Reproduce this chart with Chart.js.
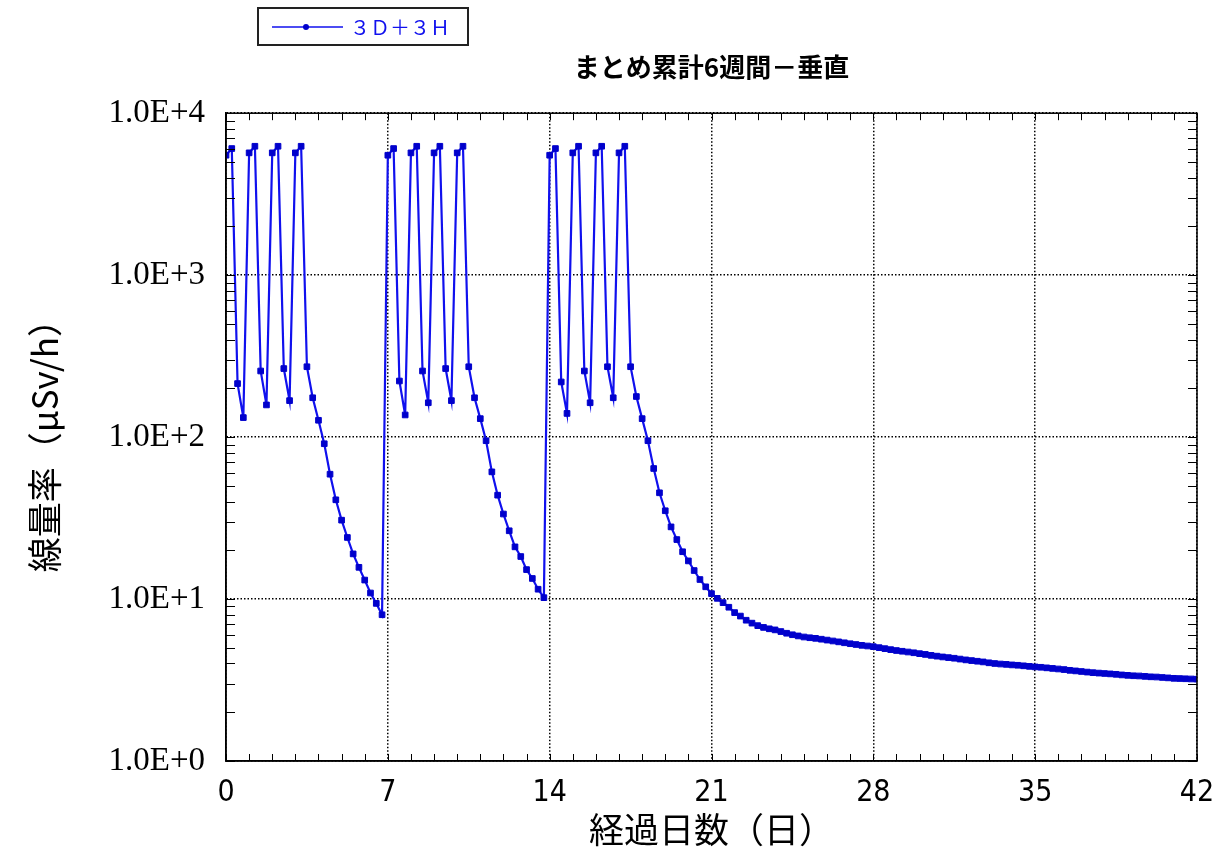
<!DOCTYPE html>
<html lang="ja">
<head>
<meta charset="UTF-8">
<title>まとめ累計6週間－垂直</title>
<script src="https://cdn.jsdelivr.net/npm/chart.js"></script>
<style>
  html, body { margin: 0; padding: 0; background: #fff; }
</style>
</head>
<body>
<canvas id="doseChart" width="1214" height="856"></canvas>
<script>
// 6時間ごとの線量率 (μSv/h)、グラフから読み取った値
const STEP_DAYS = 0.25;

// 0日 ～ 6.75日
const week1 = [5500, 6050, 214, 132, 5690, 6250, 256, 158, 5690, 6250, 265, 168,
  5690, 6250, 272, 175, 127, 91, 59, 41, 30.7, 24, 19, 15.7, 13.1, 10.9, 9.4, 8.0];
// 7日 ～ 13.75日
const week2 = [5500, 6050, 222, 137, 5690, 6250, 256, 163, 5690, 6250, 265, 168,
  5690, 6250, 272, 175, 130, 95, 61, 43.8, 33.5, 26.4, 21, 18.3, 15.2, 13.4, 11.5, 10.2];
// 14日 ～ 20.75日
const week3 = [5500, 6050, 219, 140, 5690, 6250, 256, 163, 5690, 6250, 272, 175,
  5690, 6250, 272, 178, 130, 95, 64, 45.3, 35.1, 27.9, 23.3, 19.6, 17.2, 15.0, 13.2, 11.9];
// 21日 ～ 42日
const tail = [10.8, 10.1, 9.5, 8.9, 8.25, 7.85, 7.4, 7.1, 6.85, 6.68, 6.55, 6.45,
  6.3, 6.15, 6.02, 5.92, 5.83, 5.77, 5.72, 5.65, 5.58, 5.51, 5.44, 5.37,
  5.30, 5.24, 5.18, 5.13, 5.08, 5.01, 4.94, 4.87, 4.81, 4.76, 4.71, 4.66,
  4.60, 4.55, 4.49, 4.44, 4.39, 4.35, 4.31, 4.26, 4.21, 4.17, 4.13, 4.09,
  4.04, 4.00, 3.97, 3.95, 3.92, 3.90, 3.87, 3.84, 3.81, 3.79, 3.76, 3.73,
  3.70, 3.67, 3.63, 3.60, 3.57, 3.54, 3.51, 3.49, 3.47, 3.45, 3.43, 3.40,
  3.38, 3.36, 3.35, 3.33, 3.31, 3.30, 3.28, 3.26, 3.24, 3.23, 3.22, 3.21, 3.20];

const doseRate = week1.concat(week2, week3, tail);
const days = doseRate.map((v, i) => i * STEP_DAYS);

const xTicks = [0, 7, 14, 21, 28, 35, 42];
const yTicks = [1, 10, 100, 1000, 10000];
const seriesLabel = '３Ｄ＋３Ｈ';

const LINE_BLUE = '#1010ee';
const MARK_BLUE = '#0000cc';

// 枠線・内向きの目盛り・凡例
const framePlugin = {
  id: 'frame',
  afterDraw(chart) {
    const ctx = chart.ctx;
    const a = chart.chartArea;
    const xs = chart.scales.x, ys = chart.scales.y;
    ctx.save();
    ctx.strokeStyle = '#000';
    ctx.lineWidth = 1.5;
    ctx.setLineDash([]);
    ctx.strokeRect(a.left, a.top, a.right - a.left, a.bottom - a.top);

    ctx.lineWidth = 1;
    ctx.beginPath();
    for (let d = 0; d <= 42; d++) {
      const px = Math.round(xs.getPixelForValue(d)) + 0.5;
      ctx.moveTo(px, a.bottom); ctx.lineTo(px, a.bottom - 7);
      ctx.moveTo(px, a.top); ctx.lineTo(px, a.top + 7);
    }
    for (let e = 0; e < 4; e++) {
      for (let m = 1; m <= 9; m++) {
        const py = Math.round(ys.getPixelForValue(m * Math.pow(10, e))) + 0.5;
        ctx.moveTo(a.left, py); ctx.lineTo(a.left + 9, py);
        ctx.moveTo(a.right, py); ctx.lineTo(a.right - 9, py);
      }
    }
    ctx.stroke();

    // 凡例
    ctx.lineWidth = 2;
    ctx.strokeStyle = '#222';
    ctx.strokeRect(258, 8, 210, 37);
    ctx.strokeStyle = LINE_BLUE;
    ctx.lineWidth = 1.5;
    ctx.beginPath();
    ctx.moveTo(272, 27); ctx.lineTo(343, 27);
    ctx.stroke();
    ctx.fillStyle = MARK_BLUE;
    ctx.beginPath();
    ctx.arc(306, 27, 3, 0, Math.PI * 2);
    ctx.fill();
    ctx.fillStyle = LINE_BLUE;
    ctx.font = '20px "Noto Sans CJK JP", sans-serif';
    ctx.textBaseline = 'middle';
    ctx.fillText(seriesLabel, 350, 27);
    ctx.restore();
  }
};

new Chart(document.getElementById('doseChart'), {
  type: 'line',
  data: {
    datasets: [{
      label: seriesLabel,
      data: days.map((d, i) => ({ x: d, y: doseRate[i] })),
      borderColor: LINE_BLUE,
      borderWidth: 2.2,
      backgroundColor: MARK_BLUE,
      pointStyle: 'rect',
      pointRadius: 4,
      pointBorderWidth: 1,
      pointBorderColor: MARK_BLUE,
      pointBackgroundColor: MARK_BLUE,
      tension: 0,
      fill: false
    }]
  },
  options: {
    responsive: false,
    animation: false,
    layout: { padding: { left: 0, right: 17, top: 0, bottom: 0 } },
    plugins: {
      legend: { display: false },
      tooltip: { enabled: false },
      title: {
        display: true,
        fullSize: false,
        text: 'まとめ累計6週間－垂直',
        color: '#000',
        font: { family: '"Noto Sans CJK JP", sans-serif', size: 26, weight: 'bold' },
        padding: { top: 52, bottom: 30 }
      }
    },
    scales: {
      x: {
        type: 'linear',
        min: 0,
        max: 42,
        afterFit: s => { s.height = 95; s.paddingLeft = 0; s.paddingRight = 0; },
        afterBuildTicks: s => { s.ticks = xTicks.map(v => ({ value: v })); },
        ticks: {
          color: '#000',
          padding: 14,
          maxRotation: 0,
          font: { family: '"Liberation Sans Narrow", "DejaVu Sans Condensed", sans-serif', size: 30 }
        },
        grid: { color: '#000', lineWidth: 1.5, drawTicks: false },
        border: { display: true, color: '#000', width: 1.5, dash: [1.5, 2] },
        title: {
          display: true,
          text: '経過日数（日）',
          color: '#000',
          font: { family: '"Noto Sans CJK JP", sans-serif', size: 35 },
          padding: { top: 0, bottom: 5 }
        }
      },
      y: {
        type: 'logarithmic',
        min: 1,
        max: 10000,
        afterFit: s => { s.width = 226; s.paddingTop = 0; s.paddingBottom = 0; },
        afterBuildTicks: s => { s.ticks = yTicks.map(v => ({ value: v })); },
        ticks: {
          color: '#000',
          padding: 21,
          font: { family: '"Liberation Serif", "DejaVu Serif", serif', size: 33 },
          callback: v => '1.0E+' + Math.round(Math.log10(v))
        },
        grid: { color: '#000', lineWidth: 1.5, drawTicks: false },
        border: { display: true, color: '#000', width: 1.5, dash: [1.5, 2] },
        title: {
          display: true,
          text: '線量率（μSv/h）',
          color: '#000',
          font: { family: '"Noto Sans CJK JP", sans-serif', size: 35 },
          padding: { top: 24, bottom: 0 }
        }
      }
    }
  },
  plugins: [framePlugin]
});
</script>
</body>
</html>
